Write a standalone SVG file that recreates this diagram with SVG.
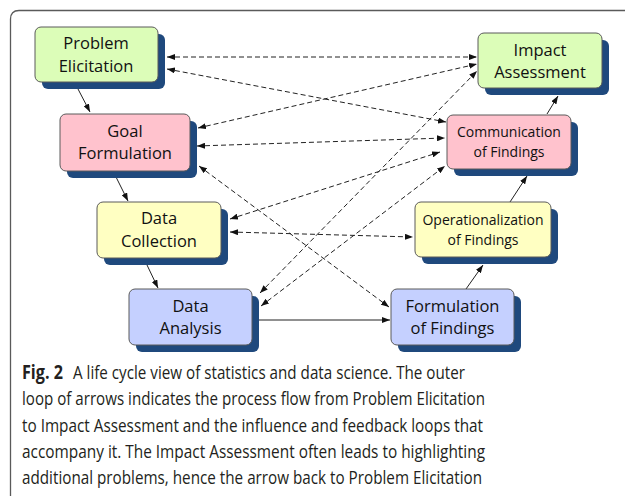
<svg xmlns="http://www.w3.org/2000/svg" width="625" height="496" viewBox="0 0 625 496">
<style>
.sh{fill:#1F497D}
.box{stroke:#5a5a5a;stroke-width:1}
.g{fill:#DCFDB8}
.p{fill:#FFC2CD}
.y{fill:#FFFFC2}
.b{fill:#C5D0FF}
.lbl{font-family:"Open Sans","Noto Sans",sans-serif;font-size:16.5px;fill:#111;text-anchor:middle}
.sm{font-size:14px}
.dash{stroke:#222;stroke-width:1;fill:none;stroke-dasharray:5,3;marker-start:url(#ah);marker-end:url(#ah)}
.solid{stroke:#222;stroke-width:1;fill:none;marker-end:url(#ah)}
.cap{font-family:"Open Sans","Noto Sans",sans-serif;font-size:19px;fill:#231f20}
</style>
<defs>
<marker id="ah" markerUnits="userSpaceOnUse" markerWidth="8" markerHeight="6" refX="8" refY="3" orient="auto-start-reverse">
<path d="M0,0 L8,3 L0,6 z" fill="#111"/>
</marker>
</defs>
<rect width="625" height="496" fill="#fff"/>
<path d="M10.5,496 V19 Q10.5,10.5 19,10.5 H625" fill="none" stroke="#5a5a5a" stroke-width="1.3"/>

<g id="connectors">
<line class="dash" x1="167" y1="57" x2="477" y2="57"/>
<line class="dash" x1="167" y1="69" x2="446" y2="122"/>
<line class="dash" x1="198" y1="128" x2="477" y2="64"/>
<line class="dash" x1="197" y1="146" x2="445" y2="138"/>
<line class="dash" x1="199" y1="166" x2="389" y2="307"/>
<line class="dash" x1="230" y1="219" x2="440" y2="152"/>
<line class="dash" x1="230" y1="232" x2="413" y2="237"/>
<line class="dash" x1="260" y1="293" x2="477" y2="71"/>
<line class="dash" x1="261" y1="306" x2="445" y2="166"/>
<line class="solid" x1="78" y1="89" x2="90" y2="112"/>
<line class="solid" x1="116" y1="177" x2="128" y2="201"/>
<line class="solid" x1="147" y1="265" x2="158" y2="288"/>
<line class="solid" x1="259" y1="320" x2="390" y2="320"/>
<line class="solid" x1="466" y1="289" x2="483" y2="265"/>
<line class="solid" x1="510" y1="202" x2="527" y2="176"/>
<line class="solid" x1="547" y1="114" x2="558" y2="96"/>
</g>

<g id="problem-elicitation">
<rect class="sh" x="42" y="34" width="123" height="55" rx="6"/>
<rect class="box g" x="35" y="27" width="123" height="55" rx="6"/>
<text class="lbl" x="96" y="49">Problem</text>
<text class="lbl" x="96" y="72">Elicitation</text>
</g>
<g id="goal-formulation">
<rect class="sh" x="67" y="121" width="130" height="57" rx="6"/>
<rect class="box p" x="60" y="114" width="130" height="57" rx="6"/>
<text class="lbl" x="125" y="137">Goal</text>
<text class="lbl" x="125" y="159">Formulation</text>
</g>
<g id="data-collection">
<rect class="sh" x="104" y="209" width="124" height="56" rx="6"/>
<rect class="box y" x="97" y="202" width="124" height="56" rx="6"/>
<text class="lbl" x="159" y="224">Data</text>
<text class="lbl" x="159" y="247">Collection</text>
</g>
<g id="data-analysis">
<rect class="sh" x="136" y="296" width="123" height="56" rx="6"/>
<rect class="box b" x="129" y="289" width="123" height="56" rx="6"/>
<text class="lbl" x="190.5" y="312">Data</text>
<text class="lbl" x="190.5" y="334">Analysis</text>
</g>
<g id="impact-assessment">
<rect class="sh" x="485" y="40" width="124" height="55" rx="6"/>
<rect class="box g" x="478" y="33" width="124" height="55" rx="6"/>
<text class="lbl" x="540" y="56">Impact</text>
<text class="lbl" x="540" y="78">Assessment</text>
</g>
<g id="communication-of-findings">
<rect class="sh" x="454" y="122" width="124" height="54" rx="6"/>
<rect class="box p" x="447" y="115" width="124" height="54" rx="6"/>
<text class="lbl sm" x="509" y="137">Communication</text>
<text class="lbl sm" x="509" y="157">of Findings</text>
</g>
<g id="operationalization-of-findings">
<rect class="sh" x="422" y="209" width="136" height="55" rx="6"/>
<rect class="box y" x="415" y="202" width="136" height="55" rx="6"/>
<text class="lbl sm" x="483" y="225">Operationalization</text>
<text class="lbl sm" x="483" y="245">of Findings</text>
</g>
<g id="formulation-of-findings">
<rect class="sh" x="398" y="296" width="123" height="56" rx="6"/>
<rect class="box b" x="391" y="289" width="123" height="56" rx="6"/>
<text class="lbl" x="452.5" y="312">Formulation</text>
<text class="lbl" x="452.5" y="334">of Findings</text>
</g>

<g id="caption">
<text class="cap" x="22" y="379" font-weight="bold" textLength="41" lengthAdjust="spacingAndGlyphs">Fig. 2</text>
<text class="cap" x="73" y="379" textLength="392" lengthAdjust="spacingAndGlyphs">A life cycle view of statistics and data science. The outer</text>
<text class="cap" x="22" y="405" textLength="463" lengthAdjust="spacingAndGlyphs">loop of arrows indicates the process flow from Problem Elicitation</text>
<text class="cap" x="22" y="432" textLength="461" lengthAdjust="spacingAndGlyphs">to Impact Assessment and the influence and feedback loops that</text>
<text class="cap" x="22" y="458" textLength="463" lengthAdjust="spacingAndGlyphs">accompany it. The Impact Assessment often leads to highlighting</text>
<text class="cap" x="22" y="484" textLength="460" lengthAdjust="spacingAndGlyphs">additional problems, hence the arrow back to Problem Elicitation</text>
</g>
</svg>
